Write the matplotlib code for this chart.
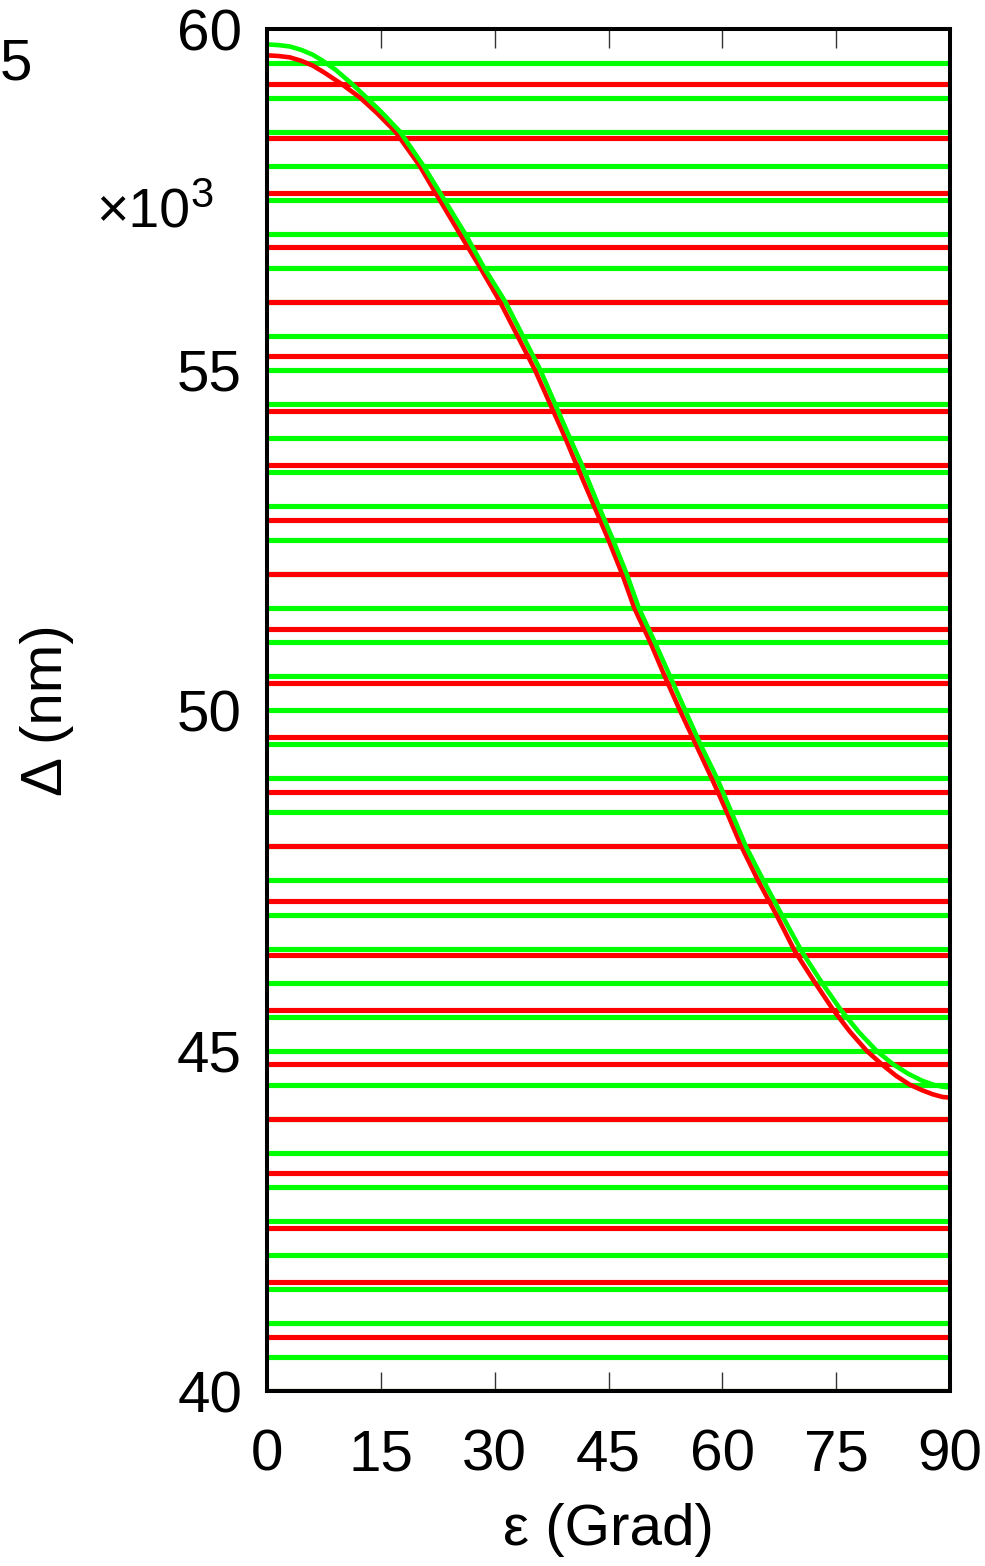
import matplotlib
matplotlib.use("Agg")
import matplotlib.pyplot as plt

# interference orders (x10^3 nm)
red_levels = [40.0, 40.8, 41.6, 42.4, 43.2, 44.0, 44.8, 45.6, 46.4, 47.2,
              48.0, 48.8, 49.6, 50.4, 51.2, 52.0, 52.8, 53.6, 54.4, 55.2,
              56.0, 56.8, 57.6, 58.4, 59.2]
green_levels = [40.0, 40.5, 41.0, 41.5, 42.0, 42.5, 43.0, 43.5, 44.0, 44.5,
                45.0, 45.5, 46.0, 46.5, 47.0, 47.5, 48.0, 48.5, 49.0, 49.5,
                50.0, 50.5, 51.0, 51.5, 52.0, 52.5, 53.0, 53.5, 54.0, 54.5,
                55.0, 55.5, 56.0, 56.5, 57.0, 57.5, 58.0, 58.5, 59.0, 59.5]

# path difference vs angle
red_x = [0, 1.5, 3.0, 4.5, 6.0, 7.5, 9.8, 12.25, 14.5, 16.9, 20.1, 22.2,
         25.4, 28.1, 30.7, 33.0, 35.3, 37.3, 39.3, 40.8, 43.1, 45.0, 46.8,
         48.4, 50.5, 52.4, 54.4, 56.5, 58.6, 60.6, 62.5, 64.7, 67.1, 69.6,
         72.2, 74.6, 76.8, 79.0, 81.0, 82.9, 84.7, 86.3, 87.7, 89.0, 90]
red_y = [59.62, 59.61, 59.59, 59.54, 59.47, 59.37, 59.2, 59.0, 58.77, 58.5,
         58.0, 57.6, 57.0, 56.5, 56.0, 55.5, 55.0, 54.5, 54.0, 53.6, 53.0,
         52.5, 52.0, 51.5, 51.0, 50.5, 50.0, 49.5, 49.0, 48.5, 48.0, 47.5,
         47.0, 46.45, 46.0, 45.6, 45.28, 45.0, 44.8, 44.63, 44.5, 44.42,
         44.36, 44.32, 44.31]
green_x = [0, 1.5, 3.0, 4.5, 6.0, 7.2, 9.0, 11.2, 13.1, 15.3, 17.5, 20.6,
           22.8, 26.1, 28.6, 31.4, 33.7, 36.0, 37.95, 39.9, 41.5, 43.7, 45.6,
           47.4, 49.0, 51.1, 53.1, 55.1, 57.1, 59.3, 61.2, 63.1, 65.4, 67.8,
           70.5, 73.1, 75.6, 78.0, 80.3, 82.5, 84.5, 86.3, 87.8, 89.0, 90]
green_y = [59.78, 59.77, 59.75, 59.70, 59.63, 59.55, 59.41, 59.2, 59.0,
           58.76, 58.5, 58.0, 57.6, 57.0, 56.5, 56.0, 55.5, 55.0, 54.5, 54.0,
           53.6, 53.0, 52.5, 52.0, 51.5, 51.0, 50.5, 50.0, 49.5, 49.0, 48.5,
           48.0, 47.5, 47.0, 46.45, 46.0, 45.6, 45.27, 45.0, 44.8, 44.66,
           44.56, 44.5, 44.47, 44.46]

x_ticks = [0, 15, 30, 45, 60, 75, 90]
y_ticks = [40, 45, 50, 55, 60]

fam = ['Liberation Sans', 'DejaVu Sans']
plt.rcParams['font.family'] = fam

fig = plt.figure(figsize=(9.85, 15.66), dpi=100)
ax = fig.add_axes([0.2711, 0.1117, 0.6934, 0.8695])

ax.hlines(green_levels, 0, 90, colors='#00ff00', lw=3.7, zorder=2)
ax.hlines(red_levels, 0, 90, colors='#ff0000', lw=3.7, zorder=3)
ax.plot(red_x, red_y, color='#ff0000', lw=3.3, zorder=4)
ax.plot(green_x, green_y, color='#00ff00', lw=3.3, zorder=5)

ax.set_xlim(0, 90)
ax.set_ylim(40, 60)
ax.set_xticks(x_ticks)
ax.set_yticks(y_ticks)
ax.set_xticklabels([str(v) for v in x_ticks])
ax.set_yticklabels([str(v) for v in y_ticks])
ax.tick_params(direction='in', length=14, width=1, color='#333333',
               top=True, right=True, labelsize=42)
ax.tick_params(axis='y', pad=18)
ax.tick_params(axis='x', pad=27)
for s in ax.spines.values():
    s.set_linewidth(2.9)
    s.set_zorder(6)

fig.text(47 / 985, 1 - 710 / 1566, 'Δ (nm)', rotation=90, fontsize=42,
         ha='center', va='center')
fig.text(608 / 985, 1 - 1530 / 1566, 'ε (Grad)', fontsize=42,
         ha='center', va='center')
fig.text(190 / 985, 1 - 228 / 1566, '×10', fontsize=40, ha='right',
         va='baseline')
fig.text(190 / 985, 1 - 207 / 1566, '3', fontsize=30, ha='left',
         va='baseline')
fig.text(0, 1 - 65 / 1566, '5', fontsize=42, ha='left', va='center')

fig.savefig('out.png', dpi=100)
